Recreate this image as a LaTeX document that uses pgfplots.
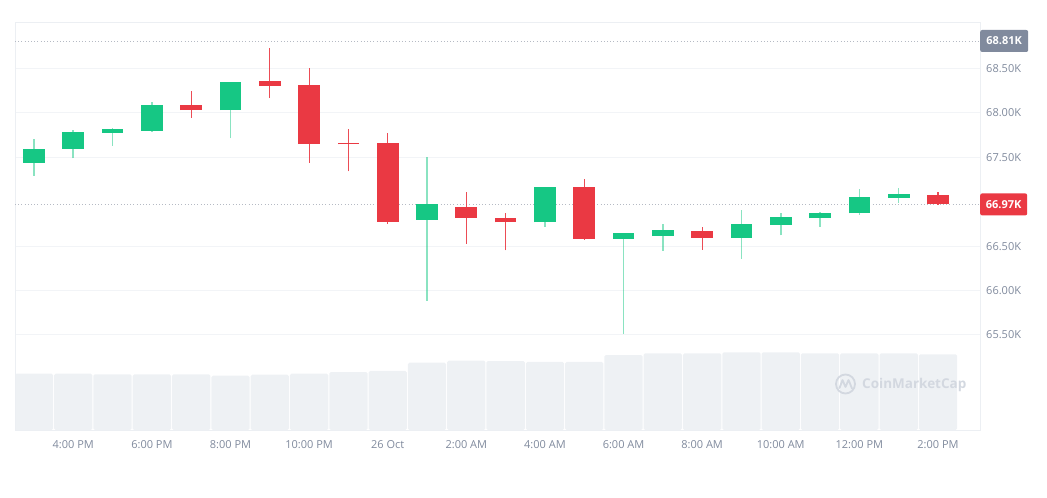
\documentclass[border=0pt]{standalone}
\usepackage{pgfplots}
\usepackage{pgfplotstable}
\pgfplotsset{compat=1.18}
\usepackage{fontspec}
\setmainfont{Open Sans}

\definecolor{up}{HTML}{16C784}
\definecolor{down}{HTML}{EA3943}
\definecolor{lbl}{HTML}{808A9D}
\definecolor{gridc}{HTML}{F2F4F7}
\definecolor{framec}{HTML}{ECEFF3}
\definecolor{volc}{HTML}{EEF1F4}
\definecolor{hib}{HTML}{808A9D}
\definecolor{wm}{HTML}{D3D8E0}
\definecolor{dotc}{HTML}{B5BAC4}

% hourly candles, x = hours after 3:00 PM
\pgfplotstableread{
x  o     h     l     c
0  67440 67706 67290 67594
1  67597 67808 67489 67785
2  67777 67830 67628 67819
3  67800 68123 67789 68089
5  68033 68345 67714 68345
10 66798 67500 65886 66971
13 66769 67163 66719 67163
15 66584 66648 65515 66648
16 66614 66750 66446 66679
18 66592 66907 66359 66750
19 66742 66877 66622 66825
20 66814 66888 66716 66877
21 66870 67144 66854 67057
22 67046 67151 66986 67087
}\upcandles

\pgfplotstableread{
x  o     h     l     c
4  68089 68250 67946 68033
6  68363 68734 68168 68306
7  68311 68502 67440 67650
8  67660 67819 67343 67645
9  67658 67771 66753 66772
11 66941 67110 66528 66817
12 66817 66870 66453 66769
14 67163 67256 66573 66584
17 66667 66716 66457 66592
23 67080 67110 66967 66970
}\downcandles

% volume, billions
\pgfplotstableread{
x  v
0  1.106
1  1.106
2  1.094
3  1.094
4  1.094
5  1.067
6  1.086
7  1.106
8  1.139
9  1.159
10 1.322
11 1.361
12 1.355
13 1.336
14 1.336
15 1.473
16 1.507
17 1.507
18 1.526
19 1.526
20 1.507
21 1.507
22 1.507
23 1.487
}\volume

\pgfplotsset{
  pane/.style={
    scale only axis, width=965bp, height=407.3bp,
    at={(15bp,68bp)}, anchor=south west,
    xmin=-0.483, xmax=24.07,
  },
  stick/.style 2 args={only marks, mark options={opacity=0},
    error bars/.cd, y dir=plus, y explicit, error mark=none,
    error bar style={line width=#1, draw opacity=#2}},
}

\begin{document}
\begin{tikzpicture}
\useasboundingbox (0,0) rectangle (1047bp,498bp);

\begin{axis}[pane, ymin=0, ymax=8, axis lines=none, ticks=none]
  \addplot[ybar, bar width=38.3bp, fill=volc, draw=none, rounded corners=1.5bp]
    table[x=x, y=v] {\volume};
\end{axis}

\begin{axis}[pane, ymin=64430, ymax=69016, clip=false,
    axis line style={draw=framec},
    scaled y ticks=false,
    xtick={1,3,...,23},
    xticklabels={4:00 PM,6:00 PM,8:00 PM,10:00 PM,26 Oct,2:00 AM,4:00 AM,6:00 AM,8:00 AM,10:00 AM,12:00 PM,2:00 PM},
    ytick={65500,66000,66500,67500,68000,68500},
    yticklabels={65.50K,66.00K,66.50K,67.50K,68.00K,68.50K},
    yticklabel pos=right,
    ymajorgrids, major grid style={draw=gridc, line width=1bp},
    major tick length=0pt,
    tick label style={font=\fontsize{11bp}{13bp}\selectfont, text=lbl},
    yticklabel style={anchor=west, inner sep=0pt, xshift=6bp},
    xticklabel style={anchor=north, inner sep=0pt, yshift=-10bp},
  ]
  % reference levels
  \addplot[dotc, line width=0.8bp, dash pattern=on 1bp off 2.2bp]
    coordinates {(-0.483,68810) (24.07,68810)};
  \addplot[dotc, line width=0.8bp, dash pattern=on 1bp off 2.2bp]
    coordinates {(-0.483,66970) (24.07,66970)};

  % wicks
  \addplot[up, stick={1.6bp}{0.5}]
    table[x=x, y=l, y error plus expr=\thisrow{h}-\thisrow{l}] {\upcandles};
  \addplot[down, stick={1.2bp}{0.9}]
    table[x=x, y=l, y error plus expr=\thisrow{h}-\thisrow{l}] {\downcandles};
  % bodies
  \addplot[up, stick={21.7bp}{1}]
    table[x=x, y=o, y error plus expr={max(\thisrow{c}-\thisrow{o},14)}] {\upcandles};
  \addplot[down, stick={21.7bp}{1}]
    table[x=x, y=c, y error plus expr={max(\thisrow{o}-\thisrow{c},14)}] {\downcandles};

  % price tags
  \node[fill=hib, rounded corners=2bp, text=white, anchor=west, inner sep=0pt,
        minimum width=48bp, minimum height=22bp,
        font=\fontsize{11bp}{13bp}\selectfont\bfseries]
    at (axis cs:24.07,68810) {68.81K};
  \node[fill=down, rounded corners=2bp, text=white, anchor=west, inner sep=0pt,
        minimum width=47bp, minimum height=22bp,
        font=\fontsize{11bp}{13bp}\selectfont\bfseries]
    at (axis cs:24.07,66970) {66.97K};
\end{axis}

% watermark
\draw[wm, line width=1.8bp] (845.5bp,114bp) circle (9.5bp);
\draw[wm, line width=1.8bp, line join=round, line cap=round]
  (839.5bp,110bp) -- (842.5bp,118bp) -- (845.5bp,111bp) -- (848.5bp,118bp)
  .. controls (850.5bp,114bp) and (851bp,111bp) .. (852bp,109.5bp);
\node[anchor=west, text=wm, inner sep=0pt,
      font=\fontsize{13.5bp}{16bp}\selectfont\bfseries]
  at (862bp,113.5bp) {CoinMarketCap};
\end{tikzpicture}
\end{document}
